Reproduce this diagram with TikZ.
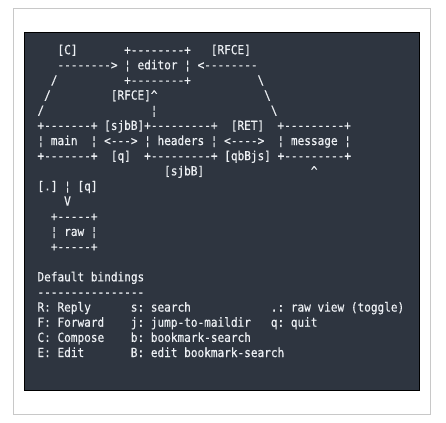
\documentclass[tikz,border=0pt]{standalone}
\usepackage{fontspec}
\setmonofont{DejaVu Sans Mono}[FakeStretch=0.884, FakeBold=0.5]
\usepackage{xcolor}
\definecolor{termbg}{RGB}{46,53,64}
\definecolor{termfg}{RGB}{236,239,243}
\definecolor{framegrey}{RGB}{200,200,200}

\begin{document}
\begin{tikzpicture}[
    x=0.75pt, y=-0.75pt,
    txt/.style={anchor=base west, inner sep=0pt, outer sep=0pt, text=termfg,
        font=\ttfamily\fontsize{9.4pt}{11pt}\selectfont\frenchspacing}
]
    \useasboundingbox (0,0) rectangle (446,422);
    \fill[white] (0,0) rectangle (446,422);
    \draw[framegrey, line width=1.1pt] (13.3,8.3) rectangle (430.7,414.3);
    \draw[black, fill=termbg, line width=0.75pt] (24,32) rectangle (419.5,390);

    % one unit = one character cell
    \begin{scope}[shift={(37.5,54.2)}, x=5pt, y=-11.355pt]
    \node[txt] (ctag) at (3,0) {[C]};
    \node[txt] (edtop) at (13,0) {+--------+};
    \node[txt] (rfcetag) at (26,0) {[RFCE]};
    \node[txt] (edmid) at (3,1) {--------> ¦ editor ¦ <--------};
    \node[txt] (sl1) at (2,2) {/};
    \node[txt] (edbot) at (13,2) {+--------+};
    \node[txt] (bs1) at (33,2) {\textbackslash};
    \node[txt] (sl2) at (1,3) {/};
    \node[txt] (rfceup) at (11,3) {[RFCE]\textasciicircum};
    \node[txt] (bs2) at (34,3) {\textbackslash};
    \node[txt] (sl3) at (0,4) {/};
    \node[txt] (bar1) at (17,4) {¦};
    \node[txt] (bs3) at (35,4) {\textbackslash};

    \node[txt] (toprow) at (0,5) {+-------+ [sjbB]+---------+};
    \node[txt] (rettag) at (29,5) {[RET]};
    \node[txt] (msgtop) at (36,5) {+---------+};
    \node[txt] (midrow) at (0,6) {¦ main\ \ ¦ <---> ¦ headers ¦ <---->\ \ ¦ message ¦};
    \node[txt] (botrow) at (0,7) {+-------+\ \ [q]\ \ +---------+ [qbBjs] +---------+};
    \node[txt] (sjbtag) at (19,8) {[sjbB]};
    \node[txt] (caret) at (41,8) {\textasciicircum};

    \node[txt] (dotq) at (0,9) {[.] ¦ [q]};
    \node[txt] (vee) at (4,10) {V};
    \node[txt] (rawtop) at (2,11) {+-----+};
    \node[txt] (rawmid) at (2,12) {¦ raw ¦};
    \node[txt] (rawbot) at (2,13) {+-----+};

    \node[txt] (title) at (0,15) {Default bindings};
    \node[txt] (rule) at (0,16) {----------------};
    \node[txt] (kR) at (0,17) {R: Reply};
    \node[txt] (ks) at (14,17) {s: search};
    \node[txt] (kdot) at (35,17) {.: raw view (toggle)};
    \node[txt] (kF) at (0,18) {F: Forward};
    \node[txt] (kj) at (14,18) {j: jump-to-maildir};
    \node[txt] (kq) at (35,18) {q: quit};
    \node[txt] (kC) at (0,19) {C: Compose};
    \node[txt] (kb) at (14,19) {b: bookmark-search};
    \node[txt] (kE) at (0,20) {E: Edit};
    \node[txt] (kB) at (14,20) {B: edit bookmark-search};
    \end{scope}
\end{tikzpicture}
\end{document}
